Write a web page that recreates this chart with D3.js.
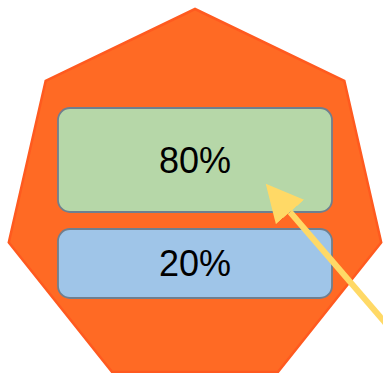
<!DOCTYPE html>
<html lang="en">
<head>
    <meta charset="UTF-8">
    <script src="https://cdn.jsdelivr.net/npm/d3@7"></script>
    <style>
        body { margin: 0; background: #fff; }
    </style>
</head>
<body>
<div id="fig"></div>
<script>
    const width = 383, height = 373;

    // shares shown in the two boxes
    const labels = ["80%", "20%"];
    const values = [80, 20];
    const boxColors = ["#b6d7a8", "#9fc5e8"];
    // box bands (top, bottom) in the shape's own units
    const boxTops = [108, 229];
    const boxBottoms = [212, 298];

    const svg = d3.select("#fig")
        .append("svg")
        .attr("width", width)
        .attr("height", height);

    const defs = svg.append("defs");
    defs.append("marker")
        .attr("id", "head")
        .attr("viewBox", "0 0 10 10")
        .attr("refX", 0)
        .attr("refY", 5)
        .attr("markerWidth", 6.2)
        .attr("markerHeight", 6.2)
        .attr("markerUnits", "strokeWidth")
        .attr("orient", "auto")
        .append("path")
        .attr("d", "M0,0L10,5L0,10z")
        .attr("fill", "#ffd966");

    // heptagon
    const cx = 195, cy = 200, R = 191;
    const pts = d3.range(7).map(k => {
        const a = -Math.PI / 2 + k * 2 * Math.PI / 7;
        return [cx + R * Math.cos(a), cy + R * Math.sin(a)];
    });
    svg.append("path")
        .attr("d", d3.line()(pts) + "Z")
        .attr("fill", "#ff6a24")
        .attr("stroke", "#ff5a1f")
        .attr("stroke-width", 2.5)
        .attr("stroke-linejoin", "miter");

    const x = d3.scaleLinear().domain([0, 1]).range([58, 332]);
    const y = d3.scaleLinear().domain([0, 373]).range([0, 373]);

    const g = svg.selectAll("g.box")
        .data(values)
        .join("g")
        .attr("class", "box");

    g.append("rect")
        .attr("x", x(0))
        .attr("y", (d, i) => y(boxTops[i]))
        .attr("width", x(1) - x(0))
        .attr("height", (d, i) => y(boxBottoms[i]) - y(boxTops[i]))
        .attr("rx", 12)
        .attr("fill", (d, i) => boxColors[i])
        .attr("stroke", "#6f7f8f")
        .attr("stroke-width", 1.8);

    g.append("text")
        .attr("x", (x(0) + x(1)) / 2)
        .attr("y", (d, i) => (y(boxTops[i]) + y(boxBottoms[i])) / 2)
        .attr("dy", "0.36em")
        .attr("text-anchor", "middle")
        .attr("font-family", "Liberation Sans, Arial, sans-serif")
        .attr("font-size", 36)
        .attr("fill", "#000")
        .text((d, i) => labels[i]);

    // arrow pointing into the 80% box
    svg.append("line")
        .attr("x1", 400)
        .attr("y1", 340)
        .attr("x2", 290)
        .attr("y2", 212)
        .attr("stroke", "#ffd966")
        .attr("stroke-width", 6)
        .attr("marker-end", "url(#head)");
</script>
</body>
</html>
